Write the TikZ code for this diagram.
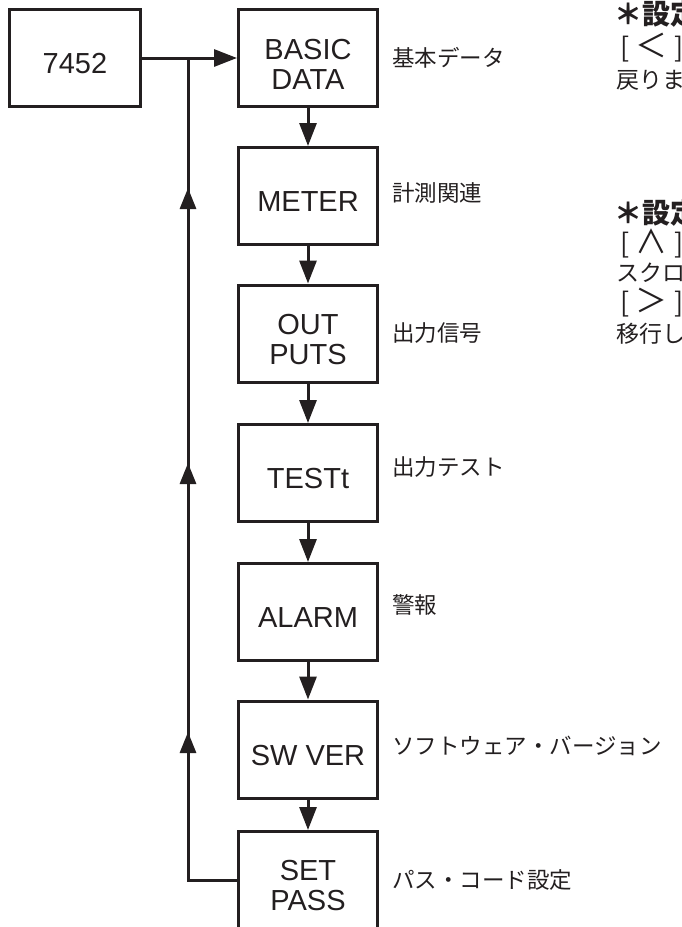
\documentclass[tikz,border=0pt]{standalone}
\usepackage{fontspec}
\setmainfont{Liberation Sans}
\newfontfamily\jp{Noto Sans CJK JP}
\usetikzlibrary{arrows.meta,decorations.markings}
\definecolor{ink}{HTML}{231F20}
\newcommand{\brk}[1]{{\fontsize{27}{27}\selectfont\makebox[27pt][c]{[}\makebox[27pt][c]{\fontsize{32}{32}\selectfont #1}\makebox[27pt][c]{]}}}
\tikzset{
  box/.style={draw=ink, line width=3pt, minimum width=139pt, minimum height=97pt,
    inner sep=0pt, align=center, text=ink, font=\fontsize{29}{30}\selectfont},
  boxtxt/.style={yshift=-6pt},
  lbl/.style={anchor=west, inner sep=0pt, text=ink, font=\jp\fontsize{22.5}{24}\selectfont},
  note/.style={anchor=west, inner sep=0pt, text=ink, font=\jp\fontsize{23}{24}\selectfont},
  notehead/.style={anchor=west, inner sep=0pt, text=ink, font=\jp\bfseries\fontsize{28}{30}\selectfont},
  arr/.style={draw=ink, line width=3pt, -{Triangle[length=23pt,width=17pt]}},
  fb/.style={draw=ink, line width=3pt,
    postaction={decorate},
    decoration={markings,
      mark=at position 197pt with {\arrow{Triangle[length=21pt,width=16pt]}},
      mark=at position 466pt with {\arrow{Triangle[length=21pt,width=16pt]}},
      mark=at position 741pt with {\arrow{Triangle[length=21pt,width=16pt]}}}}
}
\begin{document}
\begin{tikzpicture}[x=1pt,y=-1pt]
\useasboundingbox (0,0) rectangle (682,927);
\clip (0,0) rectangle (682,927);
% boxes
\node[box, minimum width=131pt] (n0) at (75,58) {};
\node[box] (b1) at (308,58) {};
\node[box] (b2) at (308,196) {};
\node[box] (b3) at (308,333.5) {};
\node[box] (b4) at (308,473) {};
\node[box] (b5) at (308,612) {};
\node[box] (b6) at (308,749.5) {};
\node[box] (b7) at (308,880) {};
% box texts
\node[box, draw=none, boxtxt] (t0) at (n0) {7452};
\node[box, draw=none, boxtxt] (t1) at (b1) {BASIC\\DATA};
\node[box, draw=none, boxtxt] (t2) at (b2) {METER};
\node[box, draw=none, boxtxt] (t3) at (b3) {OUT\\PUTS};
\node[box, draw=none, boxtxt] (t4) at (b4) {TESTt};
\node[box, draw=none, boxtxt] (t5) at (b5) {ALARM};
\node[box, draw=none, boxtxt] (t6) at (b6) {SW VER};
\node[box, draw=none, boxtxt] (t7) at (b7) {SET\\PASS};
% labels
\node[lbl] (l1) at (392,58) {基本データ};
\node[lbl] (l2) at (392,193) {計測関連};
\node[lbl] (l3) at (392,333) {出力信号};
\node[lbl] (l4) at (392,467) {出力テスト};
\node[lbl] (l5) at (392,605) {警報};
\node[lbl] (l6) at (392,746) {ソフトウェア・バージョン};
\node[lbl] (l7) at (392,880) {パス・コード設定};
% notes (cut at the right edge, as in the source)
\node[notehead] (h1) at (614,14) {＊設定};
\node[note] (a1) at (611,48) {\brk{＜}};
\node[note] (a2) at (616,80) {戻りま};
\node[notehead] (h2) at (614,213) {＊設定};
\node[note] (c1) at (611,243) {\brk{∧}};
\node[note] (c2) at (616,273) {スクロ};
\node[note] (c3) at (611,303) {\brk{＞}};
\node[note] (c4) at (616,334) {移行し};
% connectors
\coordinate (j) at (188,58);
\draw[arr] (n0) -- (b1);
\draw[arr] (b1) -- (b2);
\draw[arr] (b2) -- (b3);
\draw[arr] (b3) -- (b4);
\draw[arr] (b4) -- (b5);
\draw[arr] (b5) -- (b6);
\draw[arr] (b6) -- (b7);
\draw[fb] (b7.west) -| (j);
\end{tikzpicture}
\end{document}
